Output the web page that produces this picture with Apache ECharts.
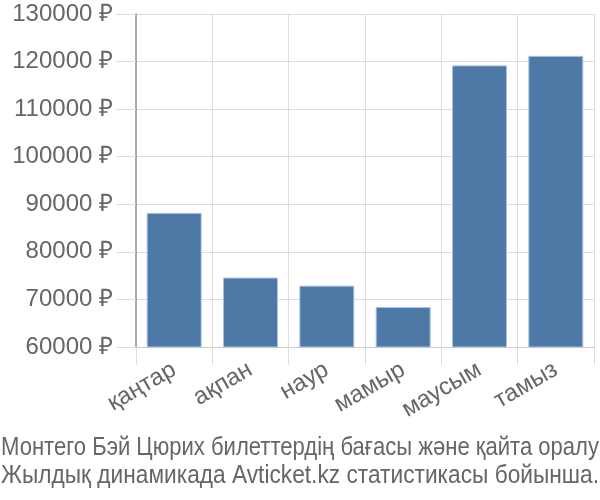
<!DOCTYPE html>
<html><head><meta charset="utf-8">
<script src="https://cdn.jsdelivr.net/npm/echarts@6/dist/echarts.min.js"></script>
<style>html,body{margin:0;padding:0;background:#fff}#c{width:600px;height:500px}</style>
</head><body><div id="c"></div>
<script>
var categories = ['қаңтар', 'ақпан', 'наур', 'мамыр', 'маусым', 'тамыз'];
var prices = [88200, 74600, 72900, 68400, 119200, 121200];
var yMin = 60000, yMax = 130000, yStep = 10000;
var captionLines = ['Монтего Бэй Цюрих билеттердің бағасы және қайта оралу', 'Жылдық динамикада Avticket.kz статистикасы бойынша.'];

var captionFont = '26px "Liberation Sans"';
var captionWidth = 598;
var measureCtx = document.createElement('canvas').getContext('2d');
measureCtx.font = captionFont;
var captionGraphics = captionLines.map(function (line, i) {
  var w = measureCtx.measureText(line).width;
  return {
    type: 'text', x: 300, y: 448 + i * 28, scaleX: captionWidth / w, silent: true,
    style: {text: line, font: captionFont, fill: '#666', align: 'center', verticalAlign: 'middle'}
  };
});

var chart = echarts.init(document.getElementById('c'), null, {renderer: 'canvas'});
chart.setOption({
  animation: false,
  textStyle: {fontFamily: 'Liberation Sans'},
  grid: {left: 136, right: 6, top: 14, bottom: 153, containLabel: false},
  graphic: captionGraphics,
  xAxis: {
    type: 'category', data: categories,
    axisLine: {show: true, lineStyle: {color: '#ccc'}},
    axisTick: {show: true, length: 18, lineStyle: {color: '#ddd'}},
    splitLine: {show: true, lineStyle: {color: '#ddd'}},
    axisLabel: {rotate: 30, fontSize: 24, color: '#666', margin: 21}
  },
  yAxis: {
    type: 'value', min: yMin, max: yMax, interval: yStep,
    axisLine: {show: true, lineStyle: {color: '#aaa', width: 2}},
    axisTick: {show: true, length: 20, lineStyle: {color: '#ddd'}},
    splitLine: {show: true, lineStyle: {color: '#ddd'}},
    axisLabel: {fontSize: 24, color: '#666', margin: 23, formatter: function(v){return v + ' ₽';}}
  },
  series: [{
    type: 'bar', data: prices, barCategoryGap: '28%',
    itemStyle: {color: '#4e79a7', borderColor: '#a9c4e0', borderWidth: 1}
  }]
});
</script></body></html>
